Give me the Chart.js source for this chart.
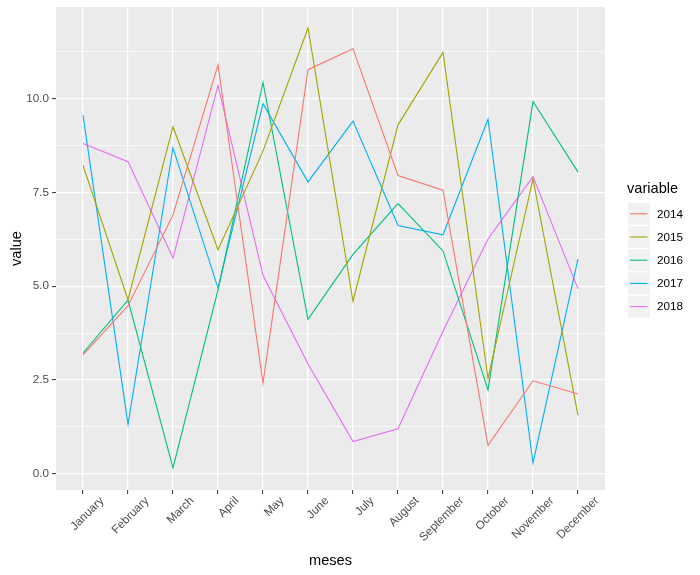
<!DOCTYPE html>
<html>
<head>
<meta charset="utf-8">
<script src="https://cdn.jsdelivr.net/npm/chart.js@4/dist/chart.umd.min.js"></script>
<style>
  html, body { margin: 0; padding: 0; background: #ffffff; }
  #wrap { width: 700px; height: 575px; }
</style>
</head>
<body>
<div id="wrap"><canvas id="c" width="700" height="575"></canvas></div>
<script>
const months = ['January','February','March','April','May','June','July','August','September','October','November','December'];
const seriesNames = ['2014','2015','2016','2017','2018'];
const v2014 = [3.17, 4.48, 6.90, 10.90, 2.42, 10.77, 11.33, 7.95, 7.56, 0.76, 2.48, 2.13];
const v2015 = [8.22, 4.64, 9.25, 5.97, 8.60, 11.88, 4.60, 9.30, 11.23, 2.54, 7.86, 1.56];
const v2016 = [3.22, 4.63, 0.16, 4.90, 10.43, 4.12, 5.85, 7.20, 5.94, 2.24, 9.92, 8.04];
const v2017 = [9.56, 1.32, 8.69, 4.95, 9.86, 7.78, 9.40, 6.62, 6.37, 9.45, 0.29, 5.73];
const v2018 = [8.80, 8.32, 5.75, 10.35, 5.29, 2.93, 0.86, 1.20, 3.80, 6.26, 7.92, 4.93];
const yTickValues = [0, 1.25, 2.5, 3.75, 5, 6.25, 7.5, 8.75, 10, 11.25];
const yMajorTicks = [0, 2.5, 5, 7.5, 10];
const colors = ['#F8766D', '#A3A500', '#00BF7D', '#00B0F6', '#E76BF3'];

const allValues = [v2014, v2015, v2016, v2017, v2018];
const FONT = "'Liberation Sans', Arial, Helvetica, sans-serif";

const datasets = allValues.map((vals, i) => ({
  label: seriesNames[i],
  data: vals.map((v, j) => ({ x: j, y: v })),
  borderColor: colors[i],
  backgroundColor: colors[i],
  borderWidth: 1.1,
  pointRadius: 0,
  pointHoverRadius: 0,
  tension: 0,
  fill: false
}));

const panelBg = {
  id: 'panelBg',
  beforeDraw(chart) {
    const { ctx, chartArea: a } = chart;
    ctx.save();
    ctx.fillStyle = '#EBEBEB';
    ctx.fillRect(a.left, a.top, a.right - a.left, a.bottom - a.top);
    ctx.restore();
  }
};

const ggLegend = {
  id: 'ggLegend',
  afterDraw(chart) {
    const ctx = chart.ctx;
    ctx.save();
    ctx.fillStyle = '#000000';
    ctx.font = '14.6px ' + FONT;
    ctx.textAlign = 'left';
    ctx.textBaseline = 'middle';
    ctx.fillText('variable', 627, 189);
    seriesNames.forEach((name, i) => {
      const cy = 213.8 + i * 23.2;
      ctx.fillStyle = '#F2F2F2';
      ctx.fillRect(628, cy - 11, 22, 22);
      ctx.strokeStyle = colors[i];
      ctx.lineWidth = 1.1;
      ctx.beginPath();
      ctx.moveTo(630, cy);
      ctx.lineTo(647.5, cy);
      ctx.stroke();
      ctx.fillStyle = '#000000';
      ctx.font = '11.7px ' + FONT;
      ctx.fillText(name, 657, cy + 0.5);
    });
    ctx.restore();
  }
};

const isMajor = (v) => yMajorTicks.some(m => Math.abs(m - v) < 1e-6);

new Chart(document.getElementById('c'), {
  type: 'line',
  data: { datasets },
  options: {
    responsive: false,
    animation: false,
    devicePixelRatio: 1,
    layout: { padding: { left: 0, top: 7, right: 95, bottom: 0 } },
    plugins: {
      legend: { display: false },
      tooltip: { enabled: false }
    },
    scales: {
      x: {
        type: 'linear',
        min: -0.6,
        max: 11.6,
        afterBuildTicks(scale) { scale.ticks = months.map((m, i) => ({ value: i })); },
        afterFit(scale) { scale.height = 85; scale.paddingLeft = 0; scale.paddingRight = 0; },
        border: { display: false },
        grid: {
          color: '#FFFFFF',
          lineWidth: 1.2,
          drawTicks: true,
          tickLength: 4,
          tickColor: '#333333',
          tickWidth: 1
        },
        ticks: {
          autoSkip: false,
          minRotation: 45,
          maxRotation: 45,
          padding: 0,
          labelOffset: 19,
          color: '#4D4D4D',
          font: { family: FONT, size: 11.7 },
          callback: (value, index) => months[index]
        },
        title: {
          display: true,
          text: 'meses',
          color: '#000000',
          font: { family: FONT, size: 14.6 },
          padding: { top: 0, bottom: 5 }
        }
      },
      y: {
        type: 'linear',
        min: -0.43,
        max: 12.44,
        afterBuildTicks(scale) { scale.ticks = yTickValues.map(v => ({ value: v })); },
        afterFit(scale) { scale.width = 56; scale.paddingTop = 0; scale.paddingBottom = 0; },
        border: { display: false },
        grid: {
          color: '#FFFFFF',
          lineWidth: (c) => isMajor(c.tick.value) ? 1.2 : 0.65,
          drawTicks: true,
          tickLength: 4,
          tickColor: (c) => isMajor(c.tick.value) ? '#333333' : 'rgba(0,0,0,0)',
          tickWidth: 1
        },
        ticks: {
          autoSkip: false,
          padding: 3,
          color: '#4D4D4D',
          font: { family: FONT, size: 11.7 },
          callback: (value) => isMajor(value) ? value.toFixed(1) : ''
        },
        title: {
          display: true,
          text: 'value',
          color: '#000000',
          font: { family: FONT, size: 14.6 },
          padding: { top: 8, bottom: 0 }
        }
      }
    }
  },
  plugins: [panelBg, ggLegend]
});
</script>
</body>
</html>
